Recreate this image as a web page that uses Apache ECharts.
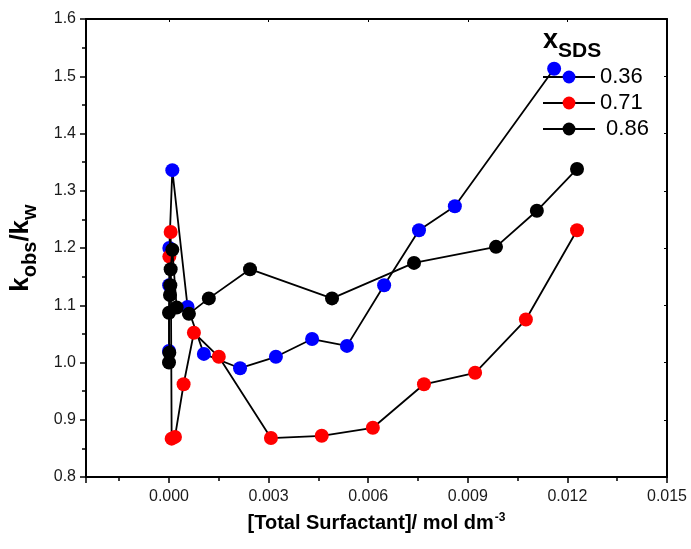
<!DOCTYPE html>
<html>
<head>
<meta charset="utf-8">
<script src="https://cdn.jsdelivr.net/npm/echarts@6/dist/echarts.min.js"></script>
<style>
html,body{margin:0;padding:0;background:#fff;}
#chart{width:691px;height:549px;}
</style>
</head>
<body>
<div id="chart"></div>
<script>
// Data
const seriesNames = ['0.36', '0.71', ' 0.86'];
const blueX = [0.00000, 0.000005, 0.00001, 0.00010, 0.00056, 0.00105, 0.00214, 0.00322, 0.00431, 0.00536, 0.00648, 0.00753, 0.00861, 0.01160];
const blueY = [1.020, 1.135, 1.200, 1.336, 1.097, 1.015, 0.990, 1.010, 1.041, 1.029, 1.135, 1.231, 1.273, 1.513];
const redX = [0.00001, 0.00005, 0.00008, 0.00018, 0.00044, 0.00075, 0.00150, 0.00307, 0.00460, 0.00614, 0.00768, 0.00922, 0.01075, 0.01229];
const redY = [1.185, 1.228, 0.867, 0.870, 0.962, 1.052, 1.010, 0.868, 0.872, 0.886, 0.962, 0.982, 1.075, 1.231];
const blackX = [0.00000, 0.00001, 0.00000, 0.00003, 0.00004, 0.00005, 0.00010, 0.00023, 0.00060, 0.00120, 0.00244, 0.00491, 0.00738, 0.00985, 0.01108, 0.01229];
const blackY = [1.000, 1.017, 1.087, 1.118, 1.135, 1.163, 1.197, 1.096, 1.085, 1.112, 1.163, 1.112, 1.174, 1.202, 1.265, 1.338];
const markerColors = ['#0000ff', '#ff0000', '#000000'];

const xs = [blueX, redX, blackX];
const ys = [blueY, redY, blackY];

const chart = echarts.init(document.getElementById('chart'), null, {renderer: 'canvas'});
const font = 'Liberation Sans, Arial, sans-serif';
const labelColor = '#1a1a1a';

const series = seriesNames.map((n, i) => ({
  name: n,
  type: 'line',
  xAxisIndex: 0,
  yAxisIndex: 0,
  data: xs[i].map((x, j) => [x, ys[i][j]]),
  symbol: 'circle',
  symbolSize: 14,
  showSymbol: true,
  itemStyle: {color: markerColors[i], borderWidth: 0},
  lineStyle: {color: '#000', width: 1.8},
  emphasis: {disabled: true},
  animation: false,
  z: 2 + i
}));

const option = {
  animation: false,
  backgroundColor: '#fff',
  grid: {left: 86, top: 19, right: 24, bottom: 72, containLabel: false, outerBoundsMode: 'none'},
  legend: {
    data: seriesNames,
    orient: 'vertical',
    left: 537,
    top: 61,
    itemWidth: 52,
    itemHeight: 16,
    itemGap: 4,
    textStyle: {fontFamily: font, fontSize: 22, color: '#000'},
    selectedMode: false
  },
  graphic: [{
    type: 'text',
    left: 543,
    top: 27,
    style: {
      text: '{x|x}{s|SDS}',
      rich: {
        x: {fontFamily: font, fontSize: 27, fontWeight: 'bold', fill: '#000', verticalAlign: 'top'},
        s: {fontFamily: font, fontSize: 21, fontWeight: 'bold', fill: '#000', verticalAlign: 'bottom', padding: [14, 0, 0, 0]}
      }
    }
  }],
  xAxis: [{
    type: 'value',
    min: -0.0025,
    max: 0.015,
    splitNumber: 6,
    position: 'bottom',
    axisLine: {show: true, onZero: false, lineStyle: {color: '#000', width: 2}},
    axisTick: {show: true, inside: false, length: 6, lineStyle: {color: '#000', width: 1.5}},
    minorTick: {show: true, splitNumber: 2, length: 4, lineStyle: {color: '#000', width: 1.5}},
    splitLine: {show: false},
    axisLabel: {showMinLabel: false, fontFamily: font, fontSize: 16, color: labelColor, margin: 12,
      formatter: v => v.toFixed(3)},
    name: '{a|[Total Surfactant]/ mol dm}{sup|-3}',
    nameLocation: 'middle',
    nameGap: 35,
    nameTextStyle: {
      rich: {
        a: {fontFamily: font, fontSize: 20, fontWeight: 'bold', color: '#000', verticalAlign: 'bottom'},
        sup: {fontFamily: font, fontSize: 12, fontWeight: 'bold', color: '#000', verticalAlign: 'top', padding: [0, 0, 9, 1]}
      }
    }
  }, {
    type: 'value',
    min: -0.0025,
    max: 0.015,
    splitNumber: 6,
    position: 'top',
    axisLine: {show: true, onZero: false, lineStyle: {color: '#000', width: 2}},
    axisTick: {show: true, inside: true, length: 3, lineStyle: {color: '#000', width: 1}},
    axisLabel: {show: false},
    splitLine: {show: false}
  }],
  yAxis: [{
    type: 'value',
    min: 0.8,
    max: 1.6,
    interval: 0.1,
    position: 'left',
    axisLine: {show: true, onZero: false, lineStyle: {color: '#000', width: 2}},
    axisTick: {show: true, inside: false, length: 6, lineStyle: {color: '#000', width: 1.5}},
    minorTick: {show: true, splitNumber: 2, length: 4, lineStyle: {color: '#000', width: 1.5}},
    splitLine: {show: false},
    axisLabel: {fontFamily: font, fontSize: 16, color: labelColor, margin: 10,
      formatter: v => v.toFixed(1)},
    name: '{a|k}{s|obs}{a|/k}{s|w}',
    nameLocation: 'middle',
    nameGap: 46,
    nameRotate: 90,
    nameTextStyle: {
      rich: {
        a: {fontFamily: font, fontSize: 26, fontWeight: 'bold', color: '#000', verticalAlign: 'top'},
        s: {fontFamily: font, fontSize: 20, fontWeight: 'bold', color: '#000', verticalAlign: 'bottom', padding: [12, 0, 0, 0]}
      }
    }
  }, {
    type: 'value',
    min: 0.8,
    max: 1.6,
    interval: 0.1,
    position: 'right',
    axisLine: {show: true, onZero: false, lineStyle: {color: '#000', width: 2}},
    axisTick: {show: true, inside: true, length: 3, lineStyle: {color: '#000', width: 1}},
    axisLabel: {show: false},
    splitLine: {show: false}
  }],
  series: series
};
chart.setOption(option);
</script>
</body>
</html>
